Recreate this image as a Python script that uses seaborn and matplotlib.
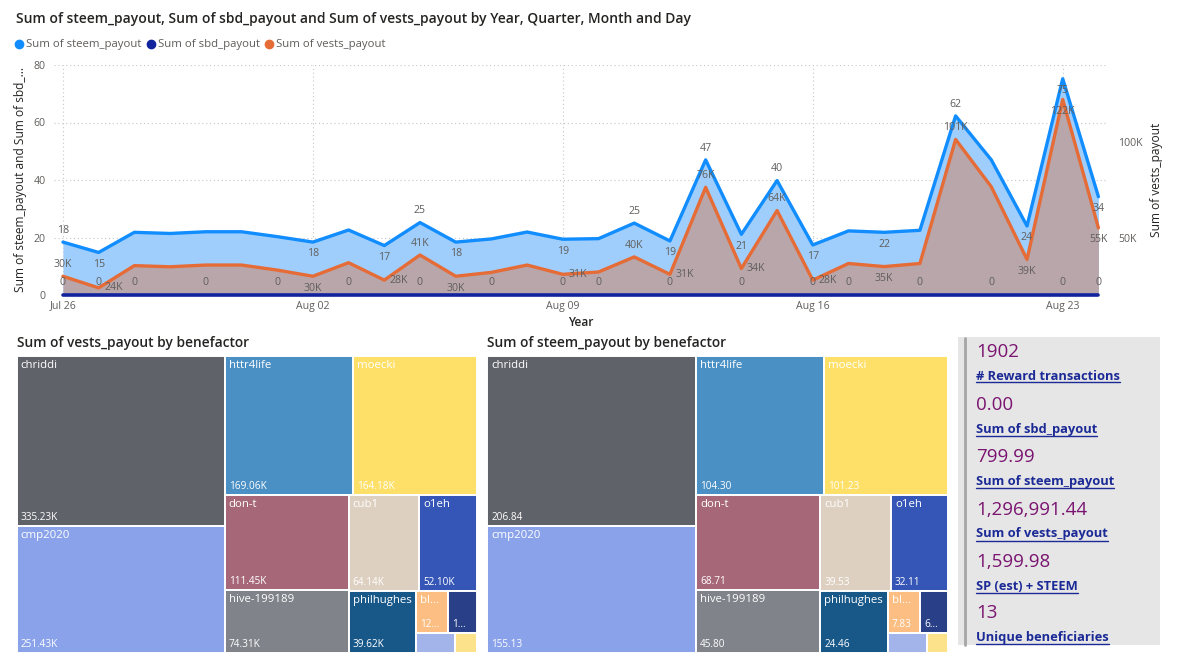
import matplotlib
matplotlib.use("Agg")
import matplotlib.pyplot as plt
from matplotlib.patches import Rectangle
from matplotlib.lines import Line2D
import seaborn as sns

# ---- data ----
days = ['Jul 26', 'Jul 27', 'Jul 28', 'Jul 29', 'Jul 30', 'Jul 31', 'Aug 01',
        'Aug 02', 'Aug 03', 'Aug 04', 'Aug 05', 'Aug 06', 'Aug 07', 'Aug 08',
        'Aug 09', 'Aug 10', 'Aug 11', 'Aug 12', 'Aug 13', 'Aug 14', 'Aug 15',
        'Aug 16', 'Aug 17', 'Aug 18', 'Aug 19', 'Aug 20', 'Aug 21', 'Aug 22',
        'Aug 23', 'Aug 24']
steem_payout = [18.4, 14.8, 21.8, 21.4, 22.0, 22.0, 20.3, 18.4, 22.6, 17.2,
                25.2, 18.4, 19.5, 21.9, 19.4, 19.6, 25.0, 18.8, 47.0, 21.1,
                39.8, 17.4, 22.3, 21.8, 22.5, 62.3, 47.0, 24.0, 75.2, 34.2]
sbd_payout = [0] * 30
vests_payout = [30400, 24400, 35900, 35300, 36200, 36200, 33600, 30400, 37400, 28400,
                41400, 30400, 32400, 36200, 31400, 32600, 40400, 31400, 76400, 34400,
                64400, 28400, 37000, 35400, 37000, 101200, 76700, 39100, 121900, 55400]
x_ticks = ['Jul 26', 'Aug 02', 'Aug 09', 'Aug 16', 'Aug 23']

beneficiaries = ['chriddi', 'cmp2020', 'httr4life', 'moecki', 'don-t', 'hive-199189',
                 'cub1', 'o1eh', 'philhughes', 'blocktrades', 'beneficiary-11',
                 'beneficiary-12', 'beneficiary-13']
vests_by_benef = [335230, 251430, 169060, 164180, 111450, 74310, 64140, 52100, 39620,
                  12700, 11200, 7400, 4170]
steem_by_benef = [206.84, 155.13, 104.30, 101.23, 68.71, 45.80, 39.53, 32.11, 24.46,
                  7.83, 6.90, 4.60, 2.55]

kpi_values = ['1902', '0.00', '799.99', '1,296,991.44', '1,599.98', '13']
kpi_labels = ['# Reward transactions', 'Sum of sbd_payout', 'Sum of steem_payout',
              'Sum of vests_payout', 'SP (est) + STEEM', 'Unique beneficiaries']

# which side Power BI put each data label on (styling, by day)
steem_lbl = {0: 'a', 1: 'b', 7: 'b', 9: 'b', 10: 'a', 11: 'b', 14: 'b', 16: 'a', 17: 'b',
             18: 'a', 19: 'b', 20: 'a', 21: 'b', 23: 'b', 25: 'a', 27: 'b', 28: 'b', 29: 'b'}
vests_lbl = {0: 'a', 1: 'r', 7: 'b', 9: 'r', 10: 'a', 11: 'b', 14: 'r', 16: 'a', 17: 'r',
             18: 'a', 19: 'r', 20: 'a', 21: 'r', 23: 'b', 25: 'a', 27: 'b', 28: 'b', 29: 'b'}
sbd_lbl = [0, 1, 2, 4, 6, 8, 10, 12, 14, 15, 17, 19, 21, 22, 24, 26, 28, 29]

tile_colors = ['#5F6269', '#8AA2EA', '#4A90C4', '#FEE068', '#A66879', '#808389',
               '#DED0C0', '#3556B6', '#185889', '#FCBE82', '#294089', '#A2B4EA', '#FDE28C']

C_STEEM, C_SBD, C_VESTS = '#118DFF', '#12239E', '#E66C37'
TXT, GRAY = '#252423', '#605E5C'

sns.set_theme(style='white')
plt.rcParams['font.family'] = ['Open Sans', 'DejaVu Sans']

W, H = 1177, 664
fig = plt.figure(figsize=(W / 100, H / 100), dpi=100)
fig.patch.set_facecolor('white')


def box(x0, y0, x1, y1):
    return [x0 / W, 1 - y1 / H, (x1 - x0) / W, (y1 - y0) / H]


# ---- top area chart ----
idx = list(range(len(days)))
ax = fig.add_axes(box(54, 65, 1107, 295))
ax2 = ax.twinx()
VMIN, VMAX = 20700, 139700

ax.fill_between(idx, steem_payout, 0, color='#A0CEFC', lw=0)
sns.lineplot(x=idx, y=steem_payout, ax=ax, color=C_STEEM, lw=2.4)
ax2.fill_between(idx, vests_payout, VMIN, color='#B8A6AA', lw=0)
sns.lineplot(x=idx, y=vests_payout, ax=ax2, color=C_VESTS, lw=2.4)
sns.lineplot(x=idx, y=sbd_payout, ax=ax2, color=C_SBD, lw=2.6,
             transform=ax.transData, clip_on=False)

ax.set_xlim(-0.25, 29.24)
ax.set_ylim(0, 80)
ax2.set_ylim(VMIN, VMAX)
ax.set_xticks([days.index(t) for t in x_ticks])
ax.set_xticklabels(x_ticks)
ax.set_yticks([0, 20, 40, 60, 80])
ax2.set_yticks([50000, 100000])
ax2.set_yticklabels(['50K', '100K'])
for a in (ax, ax2):
    for s in a.spines.values():
        s.set_visible(False)
    a.tick_params(length=0, labelsize=7.6, colors=GRAY)
ax.tick_params(axis='y', pad=6)
ax.tick_params(axis='x', pad=4)
ax2.tick_params(axis='y', pad=8)
ax.grid(True, color='#C8C6C4', lw=0.8, ls=(0, (1, 2.5)))
ax2.grid(False)
ax.set_ylabel('Sum of steem_payout and Sum of sbd_...', fontsize=8.6, color=TXT, labelpad=5)
ax2.set_ylabel('Sum of vests_payout', fontsize=8.6, color=TXT, labelpad=5)
ax.set_xlabel('Year', fontsize=8.6, color=TXT, fontweight='semibold', labelpad=3)
ax.set_zorder(0)
ax2.set_zorder(1)

offs = {'a': (0, 8.5, 'center'), 'b': (0, -8.5, 'center'), 'r': (4, 0, 'left')}
for i, side in steem_lbl.items():
    dx, dy, ha = offs[side]
    ax2.annotate(f'{steem_payout[i]:.0f}', (i, steem_payout[i]), xycoords=ax.transData,
                 xytext=(dx, dy), textcoords='offset points', ha=ha, va='center',
                 fontsize=7.6, color=GRAY)
for i, side in vests_lbl.items():
    dx, dy, ha = offs[side]
    ax2.annotate(f'{vests_payout[i] / 1000:.0f}K', (i, vests_payout[i]),
                 xytext=(dx, dy), textcoords='offset points', ha=ha, va='center',
                 fontsize=7.6, color=GRAY)
for i in sbd_lbl:
    ax2.annotate(f'{sbd_payout[i]:.0f}', (i, sbd_payout[i]), xycoords=ax.transData,
                 xytext=(0, 9), textcoords='offset points', ha='center', va='center',
                 fontsize=7.6, color=GRAY)

fig.text(16 / W, 1 - 19 / H,
         'Sum of steem_payout, Sum of sbd_payout and Sum of vests_payout by Year, Quarter, Month and Day',
         fontsize=10.0, color=TXT, fontweight='semibold', va='center', ha='left')
handles = [Line2D([], [], ls='', marker='o', ms=6, color=c) for c in (C_STEEM, C_SBD, C_VESTS)]
fig.legend(handles, ['Sum of steem_payout', 'Sum of sbd_payout', 'Sum of vests_payout'],
           loc='center left', bbox_to_anchor=(15 / W, 1 - 45 / H), ncol=3, frameon=False,
           fontsize=8.2, labelcolor=GRAY, handlelength=0.7, handletextpad=0.25,
           columnspacing=0.5, borderaxespad=0, borderpad=0)


# ---- treemaps ----
def squarify(vals, x, y, w, h):
    rects = []
    vals = list(vals)

    def worst(row, side):
        s = sum(row)
        return max(max(side * side * r / (s * s), s * s / (side * side * r)) for r in row)

    while vals:
        side = h if w >= h else w
        row = [vals[0]]
        k = 1
        while k < len(vals) and worst(row + [vals[k]], side) <= worst(row, side):
            row.append(vals[k])
            k += 1
        s = sum(row)
        if w >= h:
            cw = s / h
            yy = y
            for r in row:
                rects.append((x, yy, cw, r / cw))
                yy += r / cw
            x += cw
            w -= cw
        else:
            rh = s / w
            xx = x
            for r in row:
                rects.append((xx, y, r / rh, rh))
                xx += r / rh
            y += rh
            h -= rh
        vals = vals[k:]
    return rects


renderer = fig.canvas.get_renderer()


def fit_text(t, boxw, margin=4):
    # whole text may use nearly the full tile, truncated text keeps a wider margin
    full = t.get_text()
    if t.get_window_extent(renderer).width <= boxw - margin:
        return True
    for n in range(len(full) - 1, 0, -1):
        t.set_text(full[:n] + '...')
        if t.get_window_extent(renderer).width <= boxw - 12:
            return True
    t.set_visible(False)
    return False


def treemap(x0, y0, x1, y1, values, fmt, title):
    tw, th = x1 - x0, y1 - y0
    tax = fig.add_axes(box(x0, y0, x1, y1))
    tax.set_xlim(0, tw)
    tax.set_ylim(th, 0)
    tax.axis('off')
    total = sum(values)
    scaled = [v / total * tw * th for v in values]
    for (rx, ry, rw, rh), name, v, c in zip(squarify(scaled, 0, 0, tw, th),
                                           beneficiaries, values, tile_colors):
        tax.add_patch(Rectangle((rx, ry), rw, rh, facecolor=c, edgecolor='white', lw=1.4))
        if rh < 30:
            continue
        if rw >= 30:
            t = tax.text(rx + 4, ry + 4, name, ha='left', va='top', fontsize=8.2, color='white')
            fit_text(t, rw)
        t = tax.text(rx + 4, ry + rh - 3, fmt(v), ha='left', va='bottom', fontsize=7.2,
                     color='white')
        fit_text(t, rw, margin=9)
    fig.text(x0 / W, 1 - 343 / H, title, fontsize=9.9, color=TXT, fontweight='semibold',
             va='center', ha='left')


treemap(16.7, 356, 476.7, 653, vests_by_benef, lambda v: f'{v / 1000:.2f}K',
        'Sum of vests_payout by benefactor')
treemap(487.3, 356, 948.3, 653, steem_by_benef, lambda v: f'{v:.2f}',
        'Sum of steem_payout by benefactor')

# ---- KPI card panel ----
pax = fig.add_axes(box(958, 337, 1160, 645))
pax.set_xlim(0, 1)
pax.set_ylim(0, 1)
pax.axis('off')
pax.add_patch(Rectangle((0, 0), 1, 1, facecolor='#E6E6E6', lw=0, transform=pax.transAxes))
fig.add_artist(Line2D([965 / W, 965 / W], [1 - 338 / H, 1 - 645 / H], color='#A6A6A6', lw=2))

val_y = [352, 405, 457, 510, 562, 613]
for vy, val, lab in zip(val_y, kpi_values, kpi_labels):
    fig.text(976 / W, 1 - vy / H, val, fontsize=13.5, color='#7A1470', va='center', ha='left')
    lt = fig.text(976 / W, 1 - (vy + 24) / H, lab, fontsize=9.3, color='#1B2A96',
                  fontweight='bold', va='center', ha='left')
    bb = lt.get_window_extent(renderer)
    uy = 1 - (vy + 30.5) / H
    fig.add_artist(Line2D([bb.x0 / W, bb.x1 / W], [uy, uy], color='#1B2A96', lw=1))

fig.savefig('out.png', dpi=100)
